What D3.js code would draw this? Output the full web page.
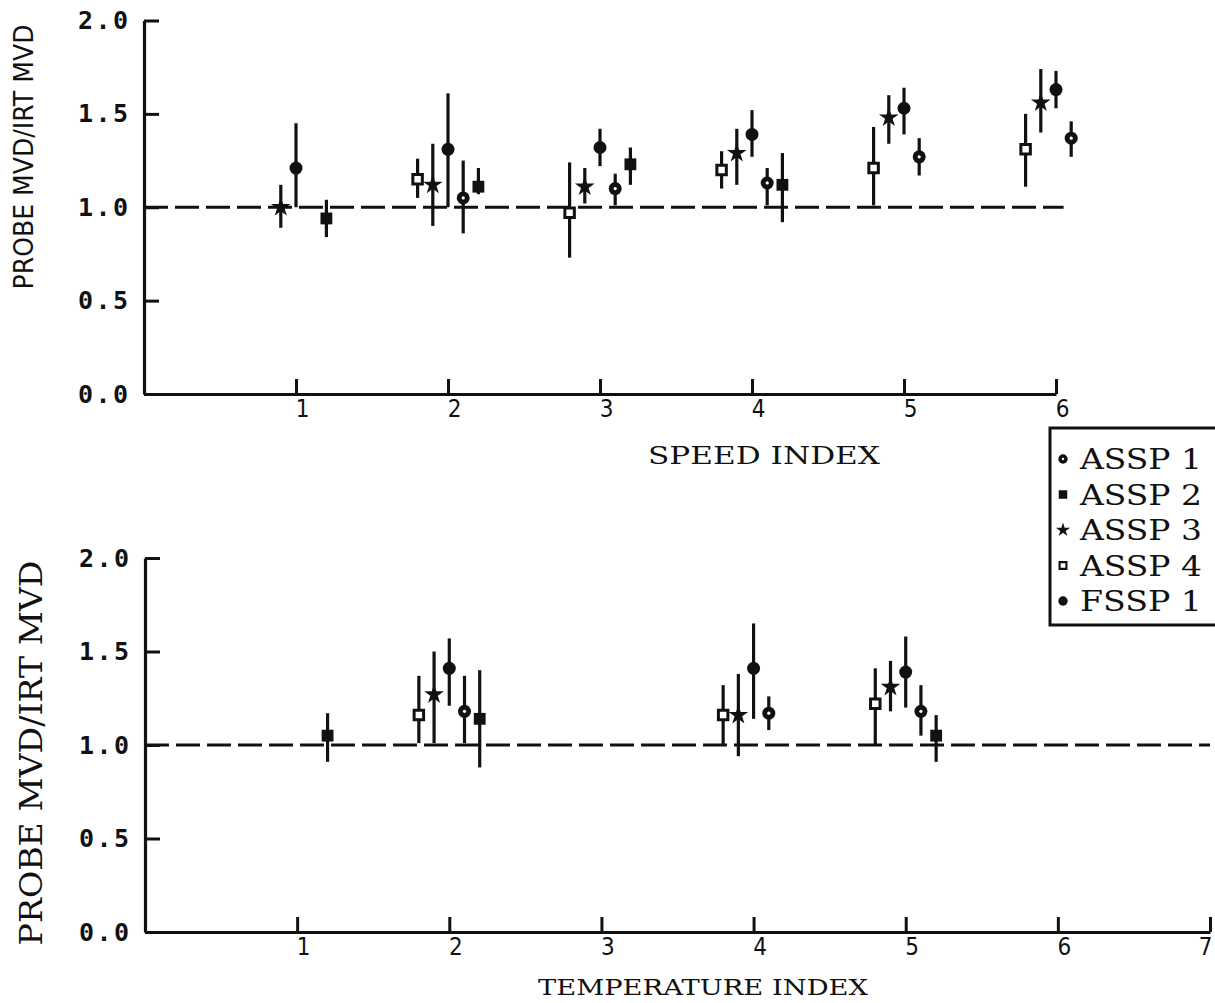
<!DOCTYPE html>
<html>
<head>
<meta charset="utf-8">
<script src="https://cdn.jsdelivr.net/npm/d3@7"></script>
<style>
  body { margin: 0; background: #fff; }
  svg { display: block; }
</style>
</head>
<body>
<svg id="chart" width="1215" height="1003"></svg>
<script>
// ---- data ----
const ratioTicks = [0, 0.5, 1.0, 1.5, 2.0];
const speedTicks = [1, 2, 3, 4, 5, 6];
const tempTicks = [1, 2, 3, 4, 5, 6, 7];
const seriesNames = ["ASSP 1", "ASSP 2", "ASSP 3", "ASSP 4", "FSSP 1"];

// speed index panel: one entry per probe measurement
const speedProbe = ["ASSP 3","FSSP 1","ASSP 2",
  "ASSP 4","ASSP 3","FSSP 1","ASSP 1","ASSP 2",
  "ASSP 4","ASSP 3","FSSP 1","ASSP 1","ASSP 2",
  "ASSP 4","ASSP 3","FSSP 1","ASSP 1","ASSP 2",
  "ASSP 4","ASSP 3","FSSP 1","ASSP 1",
  "ASSP 4","ASSP 3","FSSP 1","ASSP 1"];
const speedIndex = [0.9, 1.0, 1.2,
  1.8, 1.9, 2.0, 2.1, 2.2,
  2.8, 2.9, 3.0, 3.1, 3.2,
  3.8, 3.9, 4.0, 4.1, 4.2,
  4.8, 4.9, 5.0, 5.1,
  5.8, 5.9, 6.0, 6.1];
const speedRatio = [1.00, 1.21, 0.94,
  1.15, 1.12, 1.31, 1.05, 1.11,
  0.97, 1.11, 1.32, 1.10, 1.23,
  1.20, 1.29, 1.39, 1.13, 1.12,
  1.21, 1.48, 1.53, 1.27,
  1.31, 1.56, 1.63, 1.37];
const speedLow = [0.89, 1.00, 0.84,
  1.05, 0.90, 1.00, 0.86, 1.07,
  0.73, 1.02, 1.22, 1.01, 1.12,
  1.10, 1.12, 1.27, 1.01, 0.92,
  1.01, 1.34, 1.39, 1.17,
  1.11, 1.40, 1.53, 1.27];
const speedHigh = [1.12, 1.45, 1.04,
  1.26, 1.34, 1.61, 1.25, 1.21,
  1.24, 1.21, 1.42, 1.18, 1.32,
  1.30, 1.42, 1.52, 1.21, 1.29,
  1.43, 1.60, 1.64, 1.37,
  1.50, 1.74, 1.73, 1.46];

// temperature index panel
const tempProbe = ["ASSP 2",
  "ASSP 4","ASSP 3","FSSP 1","ASSP 1","ASSP 2",
  "ASSP 4","ASSP 3","FSSP 1","ASSP 1",
  "ASSP 4","ASSP 3","FSSP 1","ASSP 1","ASSP 2"];
const tempIndex = [1.2,
  1.8, 1.9, 2.0, 2.1, 2.2,
  3.8, 3.9, 4.0, 4.1,
  4.8, 4.9, 5.0, 5.1, 5.2];
const tempRatio = [1.05,
  1.16, 1.27, 1.41, 1.18, 1.14,
  1.16, 1.16, 1.41, 1.17,
  1.22, 1.31, 1.39, 1.18, 1.05];
const tempLow = [0.91,
  1.01, 1.01, 1.21, 1.01, 0.88,
  1.00, 0.94, 1.14, 1.08,
  1.00, 1.18, 1.20, 1.05, 0.91];
const tempHigh = [1.17,
  1.37, 1.50, 1.57, 1.37, 1.40,
  1.32, 1.38, 1.65, 1.26,
  1.41, 1.45, 1.58, 1.32, 1.16];

// reference line (probe MVD equal to IRT MVD)
const referenceRatio = 1.0;
const speedRefEnd = 6.05;
const tempRefEnd = 7.0;

// ---- drawing ----
const svg = d3.select("#chart");
const ink = "#111";

// marker glyph for each probe
function drawMarker(g, name, x, y, scale) {
  const s = scale || 1;
  if (name === "ASSP 1") {
    g.append("circle").attr("cx", x).attr("cy", y).attr("r", 6.5 * s).attr("fill", ink);
    g.append("circle").attr("cx", x).attr("cy", y).attr("r", 1.6 * s).attr("fill", "#fff");
  } else if (name === "ASSP 2") {
    g.append("path").attr("transform", `translate(${x},${y})`)
      .attr("d", d3.symbol(d3.symbolSquare, 140 * s * s)()).attr("fill", ink);
  } else if (name === "ASSP 3") {
    g.append("path").attr("transform", `translate(${x},${y})`)
      .attr("d", d3.symbol(d3.symbolStar, 120 * s * s)()).attr("fill", ink);
  } else if (name === "ASSP 4") {
    g.append("path").attr("transform", `translate(${x},${y})`)
      .attr("d", d3.symbol(d3.symbolSquare, 90 * s * s)())
      .attr("fill", "#fff").attr("stroke", ink).attr("stroke-width", 3 * s);
  } else {
    g.append("circle").attr("cx", x).attr("cy", y).attr("r", 6.5 * s).attr("fill", ink);
  }
}

function drawPanel(opt) {
  const x = d3.scaleLinear().domain(opt.xDomain).range(opt.xRange);
  const y = d3.scaleLinear().domain([0, 2]).range(opt.yRange);
  const g = svg.append("g");

  // reference dashed line at ratio 1.0
  g.append("line")
    .attr("x1", x(0)).attr("x2", x(opt.refEnd))
    .attr("y1", y(referenceRatio)).attr("y2", y(referenceRatio))
    .attr("stroke", ink).attr("stroke-width", 3.2)
    .attr("stroke-dasharray", "24,7");

  // y axis, ticks pointing inward
  const ya = g.append("g").attr("transform", `translate(${x(0)},0)`)
    .call(d3.axisLeft(y).tickValues(ratioTicks).tickSize(-15).tickSizeOuter(0)
      .tickPadding(16).tickFormat(d3.format(".1f")));
  ya.select(".domain").attr("stroke", ink).attr("stroke-width", 3.2);
  ya.selectAll(".tick line").attr("stroke", ink).attr("stroke-width", 3);
  ya.selectAll(".tick text")
    .attr("font-family", "'DejaVu Sans Mono', monospace")
    .attr("font-weight", "bold").attr("font-size", 25).attr("fill", ink)
    .attr("textLength", 50).attr("lengthAdjust", "spacing");

  // x axis, ticks pointing up
  const xa = g.append("g").attr("transform", `translate(0,${y(0)})`)
    .call(d3.axisBottom(x).tickValues(opt.xTicks).tickSize(-15).tickSizeOuter(0)
      .tickPadding(6).tickFormat(d3.format("d")));
  xa.select(".domain").attr("stroke", ink).attr("stroke-width", 3.2);
  xa.selectAll(".tick line").attr("stroke", ink).attr("stroke-width", 3);
  xa.selectAll(".tick text")
    .attr("font-family", "'Liberation Sans Narrow', 'DejaVu Sans Condensed', 'Liberation Sans', sans-serif")
    .attr("font-size", 24).attr("fill", ink)
    .attr("dx", (d, i, n) => (i === n.length - 1 && opt.lastLabelInside) ? -5 : 6);

  // error bars then markers
  const pts = opt.probe.map((p, i) => ({ p, xi: opt.idx[i], v: opt.ratio[i], lo: opt.low[i], hi: opt.high[i] }));
  g.selectAll("line.err").data(pts).enter().append("line").attr("class", "err")
    .attr("x1", d => x(d.xi)).attr("x2", d => x(d.xi))
    .attr("y1", d => y(d.lo)).attr("y2", d => y(d.hi))
    .attr("stroke", ink).attr("stroke-width", 3.2);
  const mg = g.append("g");
  pts.forEach(d => drawMarker(mg, d.p, x(d.xi), y(d.v), 1));

  // axis titles
  g.append("text")
    .attr("x", opt.xTitleX).attr("y", opt.xTitleY)
    .attr("font-family", "'DejaVu Serif', serif").attr("font-size", opt.xTitleSize)
    .attr("fill", ink).attr("textLength", opt.xTitleLen).attr("lengthAdjust", "spacingAndGlyphs")
    .text(opt.xTitle);
  g.append("text")
    .attr("transform", `translate(${opt.yTitleX},${opt.yTitleY}) rotate(-90)`)
    .attr("text-anchor", "middle")
    .attr("font-family", opt.yTitleFont).attr("font-size", opt.yTitleSize)
    .attr("fill", ink).attr("textLength", opt.yTitleLen).attr("lengthAdjust", "spacingAndGlyphs")
    .text("PROBE MVD/IRT MVD");
}

drawPanel({
  xDomain: [0, 6], xRange: [144, 1056], yRange: [394, 20.5], xTicks: speedTicks,
  refEnd: speedRefEnd, lastLabelInside: false,
  probe: speedProbe, idx: speedIndex, ratio: speedRatio, low: speedLow, high: speedHigh,
  xTitle: "SPEED INDEX", xTitleX: 648, xTitleY: 464, xTitleSize: 24, xTitleLen: 232,
  yTitleX: 33, yTitleY: 157, yTitleFont: "'DejaVu Sans', sans-serif", yTitleSize: 26, yTitleLen: 265
});

drawPanel({
  xDomain: [0, 7], xRange: [145, 1210], yRange: [932, 558], xTicks: tempTicks,
  refEnd: tempRefEnd, lastLabelInside: true,
  probe: tempProbe, idx: tempIndex, ratio: tempRatio, low: tempLow, high: tempHigh,
  xTitle: "TEMPERATURE INDEX", xTitleX: 538, xTitleY: 995, xTitleSize: 23, xTitleLen: 330,
  yTitleX: 42, yTitleY: 753, yTitleFont: "'DejaVu Serif', serif", yTitleSize: 31, yTitleLen: 385
});

// legend
const legend = svg.append("g");
legend.append("rect")
  .attr("x", 1050).attr("y", 428).attr("width", 180).attr("height", 197)
  .attr("fill", "#fff").attr("stroke", ink).attr("stroke-width", 3);
const legendY = d3.scalePoint().domain(seriesNames).range([459, 601]);
seriesNames.forEach(name => {
  drawMarker(legend, name, 1063, legendY(name), 0.72);
  legend.append("text")
    .attr("x", 1080).attr("y", legendY(name) + 10)
    .attr("font-family", "'DejaVu Serif', serif").attr("font-size", 28)
    .attr("fill", ink).attr("textLength", 122).attr("lengthAdjust", "spacingAndGlyphs")
    .text(name);
});
</script>
</body>
</html>
